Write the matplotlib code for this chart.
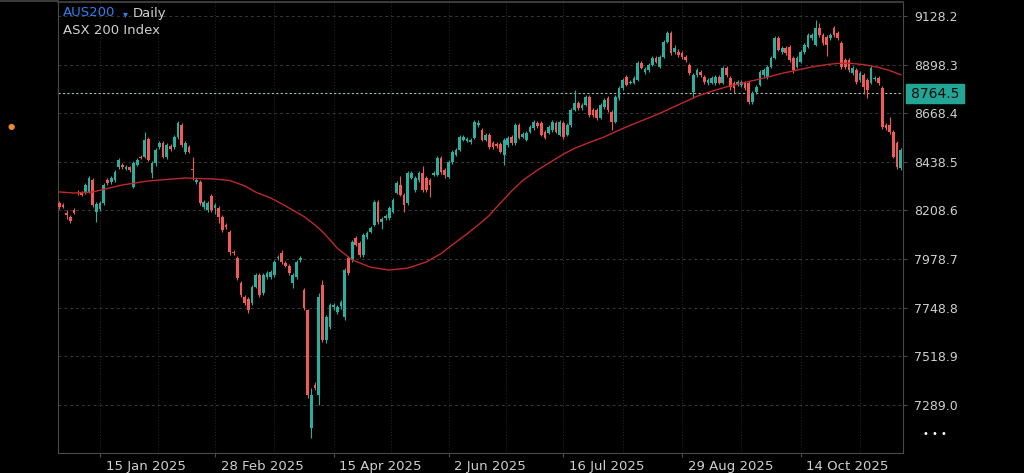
import matplotlib.pyplot as plt
import numpy as np
import pandas as pd
from matplotlib.lines import Line2D
from matplotlib.patches import Rectangle
from matplotlib.transforms import ScaledTranslation

UP = '#2aae9d'
DOWN = '#ee5b58'

# daily AUS200 candles, 30 Dec 2024 onwards
opens = [
    8244, 8235, 8197, 8178, 8211, 8296, 8291, 8291, 8296, 8353,
    8201, 8216, 8244, 8353, 8343, 8353, 8414, 8424, 8405, 8414,
    8320, 8424, 8462, 8462, 8547, 8386, 8433, 8509, 8528, 8462,
    8514, 8509, 8556, 8613, 8485, 8509, 8405, 8343, 8343, 8225,
    8211, 8277, 8220, 8220, 8178, 8140, 8107, 8012, 7984, 7866,
    7800, 7790, 7771, 7847, 7904, 7818, 7894, 7894, 7904, 7984,
    8008, 7960, 7946, 7866, 7894, 7975, 7833, 7738, 7180, 7383,
    7336, 7856, 7596, 7658, 7752, 7729,
    7755, 7705, 7984, 7975, 8079, 8055, 7998, 8083, 8107, 8140,
    8249, 8154, 8173, 8173, 8201, 8291, 8329, 8282, 8244, 8362,
    8306, 8353, 8386, 8362, 8353, 8376, 8376, 8457, 8400, 8367,
    8438, 8471, 8495, 8542, 8537, 8532, 8551, 8613, 8589, 8542,
    8566, 8528, 8523, 8523, 8471, 8518, 8556, 8528, 8613, 8556,
    8542, 8580, 8599, 8622, 8622, 8580, 8575, 8589, 8622, 8566,
    8622, 8566, 8613, 8684, 8717, 8693, 8707, 8745, 8684, 8684,
    8646, 8698, 8740, 8674, 8627, 8740,
    8788, 8840, 8811, 8811, 8826, 8906, 8863, 8873, 8896, 8930,
    8887, 8934, 9005, 9048, 8958, 8958, 8953, 8934, 8896, 8769,
    8849, 8863, 8840, 8811, 8811, 8811, 8840, 8811, 8882, 8835,
    8811, 8802, 8802, 8811, 8811, 8722, 8769, 8802, 8849, 8840,
    8887, 8930, 9024, 8958, 8977, 8982, 8930, 8887, 8911, 8958,
    8982, 9024, 8991, 9071, 9038, 9029, 9024, 9071, 9048, 9000,
    8920, 8920, 8859, 8873, 8826, 8849, 8826, 8811, 8830, 8835,
    8788, 8613, 8613, 8580, 8528, 8410,
]
highs = [
    8255, 8245, 8211, 8187, 8220, 8306, 8300, 8340, 8372, 8362,
    8248, 8253, 8339, 8362, 8370, 8398, 8455, 8433, 8424, 8420,
    8440, 8457, 8470, 8580, 8556, 8440, 8504, 8537, 8537, 8528,
    8523, 8566, 8630, 8622, 8537, 8518, 8462, 8362, 8353, 8258,
    8253, 8285, 8244, 8228, 8185, 8150, 8115, 8020, 7992, 7875,
    7808, 7800, 7856, 7913, 7913, 7913, 7922, 7927, 7975, 8000,
    8022, 7970, 7955, 7913, 7975, 7992, 7840, 7745, 7370, 7400,
    7820, 7880, 7715, 7771, 7771, 7762,
    7785, 7935, 7992, 8070, 8088, 8062, 8100, 8110, 8135, 8258,
    8258, 8178, 8190, 8228, 8268, 8348, 8372, 8290, 8395, 8395,
    8370, 8395, 8420, 8370, 8362, 8395, 8466, 8466, 8410, 8447,
    8495, 8504, 8566, 8566, 8556, 8551, 8636, 8636, 8600, 8575,
    8575, 8537, 8530, 8530, 8551, 8560, 8566, 8622, 8622, 8580,
    8585, 8613, 8636, 8630, 8630, 8589, 8613, 8636, 8630, 8636,
    8630, 8622, 8693, 8778, 8726, 8717, 8755, 8755, 8693, 8693,
    8717, 8740, 8750, 8684, 8755, 8797,
    8835, 8850, 8826, 8845, 8915, 8915, 8887, 8906, 8940, 8940,
    8944, 9015, 9058, 9058, 8990, 8972, 8962, 8944, 8906, 8858,
    8882, 8873, 8850, 8835, 8845, 8850, 8850, 8891, 8891, 8845,
    8820, 8826, 8826, 8820, 8820, 8773, 8802, 8873, 8882, 8896,
    8940, 9034, 9034, 8986, 8986, 8991, 8940, 8940, 8967, 9000,
    9048, 9048, 9110, 9095, 9048, 9038, 9048, 9080, 9058, 9010,
    8930, 8930, 8891, 8882, 8868, 8859, 8835, 8891, 8845, 8845,
    8797, 8622, 8650, 8589, 8537, 8504,
]
lows = [
    8215, 8218, 8168, 8150, 8190, 8282, 8275, 8285, 8290, 8225,
    8155, 8205, 8235, 8330, 8335, 8345, 8405, 8405, 8398, 8391,
    8315, 8418, 8450, 8455, 8440, 8362, 8420, 8500, 8455, 8450,
    8490, 8500, 8547, 8510, 8475, 8478, 8353, 8335, 8235, 8215,
    8200, 8200, 8190, 8150, 8105, 8120, 8000, 7998, 7880, 7800,
    7760, 7725, 7762, 7840, 7800, 7810, 7885, 7885, 7895, 7975,
    7955, 7940, 7905, 7840, 7885, 7965, 7738, 7320, 7133, 7360,
    7289, 7585, 7580, 7650, 7740, 7720,
    7745, 7690, 7905, 7965, 8040, 7990, 7990, 8075, 8100, 8135,
    8145, 8120, 8165, 8165, 8195, 8285, 8275, 8200, 8235, 8355,
    8298, 8345, 8298, 8298, 8270, 8370, 8370, 8380, 8360, 8360,
    8430, 8465, 8490, 8535, 8530, 8525, 8545, 8605, 8535, 8535,
    8500, 8500, 8505, 8478, 8424, 8510, 8520, 8520, 8545, 8550,
    8535, 8575, 8590, 8600, 8560, 8545, 8570, 8580, 8575, 8560,
    8545, 8560, 8605, 8677, 8685, 8685, 8700, 8650, 8650, 8638,
    8640, 8690, 8676, 8589, 8620, 8733,
    8780, 8795, 8805, 8805, 8820, 8875, 8855, 8865, 8890, 8905,
    8880, 8928, 9000, 8945, 8950, 8935, 8925, 8910, 8850, 8740,
    8840, 8840, 8808, 8800, 8805, 8800, 8805, 8805, 8840, 8780,
    8765, 8795, 8790, 8780, 8712, 8712, 8760, 8795, 8840, 8830,
    8880, 8925, 8960, 8950, 8945, 8910, 8860, 8880, 8905, 8950,
    8975, 9015, 8985, 9030, 8990, 8940, 9015, 9030, 9015, 8878,
    8878, 8865, 8850, 8808, 8816, 8760, 8740, 8805, 8820, 8800,
    8595, 8590, 8570, 8455, 8405, 8400,
]
closes = [
    8225, 8225, 8187, 8159, 8197, 8294, 8282, 8329, 8362, 8235,
    8239, 8244, 8329, 8339, 8362, 8391, 8447, 8414, 8414, 8400,
    8433, 8447, 8457, 8542, 8447, 8433, 8495, 8528, 8462, 8518,
    8499, 8556, 8622, 8518, 8528, 8485, 8400, 8353, 8244, 8249,
    8244, 8211, 8235, 8178, 8116, 8131, 8012, 8008, 7889, 7809,
    7771, 7738, 7847, 7904, 7809, 7904, 7913, 7918, 7965, 7989,
    7965, 7946, 7913, 7904, 7965, 7984, 7748, 7336, 7336, 7369,
    7800, 7596, 7705, 7762, 7762, 7752,
    7776, 7927, 7913, 8060, 8045, 7998, 8093, 8102, 8126, 8249,
    8154, 8168, 8183, 8220, 8258, 8339, 8282, 8235, 8386, 8386,
    8362, 8386, 8306, 8306, 8329, 8386, 8457, 8391, 8376, 8438,
    8485, 8495, 8556, 8556, 8547, 8542, 8627, 8622, 8542, 8566,
    8509, 8509, 8514, 8485, 8542, 8551, 8528, 8613, 8551, 8570,
    8575, 8603, 8627, 8608, 8566, 8551, 8603, 8627, 8580, 8627,
    8556, 8613, 8684, 8717, 8693, 8707, 8745, 8660, 8660, 8646,
    8707, 8731, 8684, 8627, 8745, 8788,
    8826, 8802, 8816, 8835, 8906, 8882, 8878, 8896, 8930, 8911,
    8934, 9005, 9048, 8953, 8977, 8944, 8934, 8920, 8859, 8849,
    8873, 8849, 8816, 8826, 8835, 8840, 8811, 8882, 8849, 8792,
    8788, 8816, 8816, 8788, 8722, 8764, 8792, 8863, 8873, 8887,
    8930, 9024, 8967, 8977, 8953, 8920, 8873, 8930, 8958, 8991,
    9038, 9038, 9071, 9038, 9000, 8991, 9038, 9038, 9024, 8887,
    8887, 8873, 8882, 8816, 8859, 8792, 8778, 8882, 8835, 8811,
    8603, 8599, 8580, 8462, 8414, 8495,
]

# moving average, sampled along the red curve (candle number, value)
ma_bar = [0, 4, 9, 17, 24, 34, 37, 42, 46, 50, 53, 57, 60, 63, 66, 69, 71, 73,
          75, 79, 84, 89, 94, 99, 103, 106, 110, 113, 116, 118, 122, 125, 129,
          132, 136, 139, 143, 147, 152, 156, 161, 166, 172, 176, 180, 184, 188,
          192, 195, 199, 203, 207, 210, 213, 217, 221, 224, 227]
ma_val = [8296, 8291, 8296, 8329, 8348, 8362, 8360, 8357, 8350, 8325, 8295,
          8268, 8240, 8210, 8180, 8140, 8108, 8070, 8030, 7975, 7940, 7927,
          7936, 7965, 8005, 8046, 8098, 8140, 8185, 8225, 8300, 8350, 8400,
          8432, 8475, 8502, 8530, 8556, 8596, 8625, 8660, 8700, 8748, 8772,
          8793, 8810, 8826, 8843, 8857, 8872, 8887, 8898, 8904, 8905, 8898,
          8885, 8870, 8850]

last_price = 8764.5
ytick_vals = [7289.0, 7518.9, 7748.8, 7978.7, 8208.6, 8438.5, 8668.4, 8898.3, 9128.2]
xtick_dates = ['2025-01-15', '2025-02-28', '2025-04-15', '2025-06-02',
               '2025-07-16', '2025-08-29', '2025-10-14']
xtick_labels = ['15 Jan 2025', '28 Feb 2025', '15 Apr 2025', '2 Jun 2025',
                '16 Jul 2025', '29 Aug 2025', '14 Oct 2025']
holidays = ['2025-01-01', '2025-01-27', '2025-04-18', '2025-04-21',
            '2025-04-25', '2025-06-09']

dates = pd.bdate_range('2024-12-30', periods=len(closes), freq='C', holidays=holidays)
xs = np.arange(len(closes))
o = np.array(opens, float)
h = np.array(highs, float)
l = np.array(lows, float)
c = np.array(closes, float)
colors = np.where(c >= o, UP, DOWN)

fig = plt.figure(figsize=(10.24, 4.73), dpi=100, facecolor='black')
ax = fig.add_axes([58 / 1024, 20 / 473, 845 / 1024, 451 / 473])
ax.set_facecolor('black')
ax.set_xlim(-0.35, len(closes) - 0.4)
ax.set_ylim(7062, 9194)

# grid
xt = dates.get_indexer(pd.to_datetime(xtick_dates)).astype(float)
mids = list((xt[:-1] + xt[1:]) / 2) + [xt[-1] + (xt[-1] - xt[-2]) / 2]
for v in ytick_vals:
    ax.axhline(v, color='#383838', lw=0.7, ls=(0, (3, 3)), zorder=0)
for v in list(xt) + mids:
    ax.axvline(v, color='#2a2a2a', lw=0.7, ls=(0, (1, 2)), zorder=0)

# candles
ax.vlines(xs, l, h, colors=colors, lw=0.8, zorder=2)
body = np.maximum(np.abs(c - o), 4)
ax.bar(xs, body, bottom=np.minimum(o, c), width=0.74, color=colors, lw=0, zorder=3)

ax.plot(ma_bar, ma_val, color='#c0282b', lw=1.0, zorder=4)
ax.axhline(last_price, color='#9fc3bb', lw=0.8, ls=(0, (2, 2)), zorder=1)

# axes styling
for side in ['left', 'bottom', 'right']:
    ax.spines[side].set_color('#4a4a4a')
ax.spines['top'].set_color('#3a3a3a')
ax.spines['top'].set_linewidth(1.5)
ax.yaxis.tick_right()
ax.set_yticks(ytick_vals)
ax.set_yticklabels([f'{v:.1f}' for v in ytick_vals])
ax.tick_params(axis='y', colors='#4a4a4a', labelcolor='#cfcfcf', labelsize=9,
               length=3, pad=5)
ax.set_xticks(xt)
ax.set_xticklabels(xtick_labels)
ax.tick_params(axis='x', colors='#4a4a4a', labelcolor='#cfcfcf', labelsize=9.5,
               length=3, pad=2)
shift = ScaledTranslation(4 / 72, 0, fig.dpi_scale_trans)
for lbl in ax.get_xticklabels():
    lbl.set_ha('left')
    lbl.set_transform(lbl.get_transform() + shift)

# top border across the screen
fig.add_artist(Line2D([0, 58 / 1024], [1 - 1.5 / 473] * 2, color='#3a3a3a', lw=1.5,
                      transform=fig.transFigure))

# last price tag
fig.add_artist(Rectangle((906 / 1024, 1 - 103 / 473), 58 / 1024, 19 / 473,
                         transform=fig.transFigure, color='#22a595'))
fig.text(935 / 1024, 1 - 93.5 / 473, f'{last_price:.1f}', color='#0a0a0a',
         fontsize=10, ha='center', va='center')

# header
fig.text(63 / 1024, 1 - 13 / 473, 'AUS200', color='#2f80ed', fontsize=9.5, va='center')
fig.text(125 / 1024, 1 - 14 / 473, '\u25be', color='#2f80ed', fontsize=7,
         ha='center', va='center')
fig.text(133 / 1024, 1 - 13 / 473, 'Daily', color='#d0d0d0', fontsize=9.5, va='center')
fig.text(63 / 1024, 1 - 31 / 473, 'ASX 200 Index', color='#d0d0d0', fontsize=9.5,
         va='center')

fig.text(11 / 1024, 1 - 127 / 473, '\u25cf', color='#e8893a', fontsize=6,
         ha='center', va='center')
fig.text(935 / 1024, 1 - 434 / 473, '\u2022 \u2022 \u2022', color='white', fontsize=7,
         ha='center', va='center')

fig.savefig('out.png', dpi=100, facecolor='black')
